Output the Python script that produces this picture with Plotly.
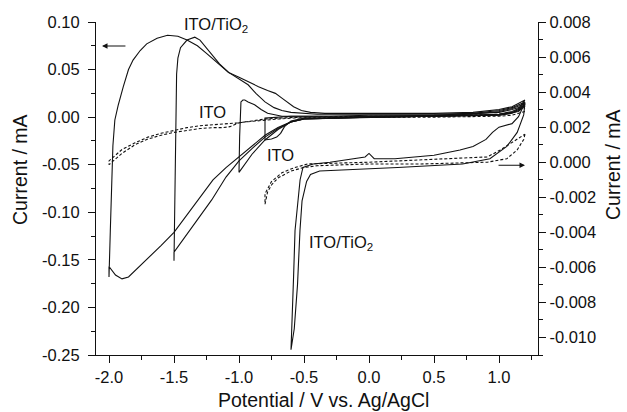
import plotly.graph_objects as go

# ---- ITO/TiO2 electrode, left axis (mA), four negative vertex potentials ----
# each sweep starts at +1.2 V, runs cathodic to the vertex, then returns anodic
tio2_v20_cath_E = [1.2, 1.15, 1.1, 1.0, 0.8, 0.5, 0.0, -0.3, -0.5, -0.6, -0.7, -0.8, -0.9, -1.0,
                   -1.1, -1.2, -1.3, -1.4, -1.5, -1.6, -1.7, -1.8, -1.85, -1.9, -1.95, -2.0]
tio2_v20_cath_I = [0.018, 0.009, 0.006, 0.003, 0.002, 0.001, 0.000, -0.001, -0.002, -0.005, -0.011,
                   -0.019, -0.030, -0.042, -0.053, -0.066, -0.084, -0.102, -0.121, -0.135, -0.148,
                   -0.162, -0.168, -0.170, -0.166, -0.157]
tio2_v20_anod_E = [-2.0, -1.99, -1.98, -1.97, -1.955, -1.93, -1.89, -1.85, -1.815, -1.76, -1.71,
                   -1.63, -1.55, -1.47, -1.40, -1.32, -1.25, -1.17, -1.08, -1.0, -0.93, -0.85,
                   -0.78, -0.72, -0.67, -0.63, -0.58, -0.52, -0.45, -0.34, 0.0, 0.5, 0.8, 1.0,
                   1.1, 1.2]
tio2_v20_anod_I = [-0.168, -0.120, -0.060, -0.030, -0.003, 0.012, 0.032, 0.050, 0.060, 0.070, 0.077,
                   0.083, 0.086, 0.085, 0.081, 0.075, 0.067, 0.058, 0.047, 0.042, 0.037, 0.032,
                   0.028, 0.025, 0.020, 0.016, 0.011, 0.007, 0.005, 0.004, 0.004, 0.004, 0.005,
                   0.008, 0.011, 0.018]

tio2_v15_cath_E = [1.2, 1.15, 1.1, 1.0, 0.5, 0.0, -0.5, -0.6, -0.7, -0.8, -0.9, -1.0, -1.1, -1.21,
                   -1.3, -1.4, -1.5, -1.5]
tio2_v15_cath_I = [0.016, 0.008, 0.005, 0.003, 0.001, 0.000, -0.002, -0.005, -0.012, -0.021, -0.033,
                   -0.046, -0.063, -0.087, -0.104, -0.123, -0.142, -0.151]
tio2_v15_anod_E = [-1.495, -1.49, -1.485, -1.48, -1.47, -1.45, -1.40, -1.34, -1.30, -1.25, -1.2,
                   -1.15, -1.08, -1.0, -0.93, -0.87, -0.8, -0.73, -0.67, -0.6, -0.52, -0.4, 0.0,
                   0.5, 0.8, 1.0, 1.1, 1.2]
tio2_v15_anod_I = [-0.090, -0.030, 0.020, 0.045, 0.062, 0.073, 0.081, 0.084, 0.081, 0.073, 0.064,
                   0.056, 0.047, 0.040, 0.034, 0.025, 0.016, 0.010, 0.007, 0.005, 0.004, 0.003,
                   0.003, 0.003, 0.004, 0.007, 0.010, 0.016]

tio2_v10_cath_E = [1.2, 1.15, 1.1, 1.0, 0.5, 0.0, -0.5, -0.6, -0.7, -0.8, -0.9, -0.95, -1.0]
tio2_v10_cath_I = [0.014, 0.007, 0.004, 0.002, 0.001, 0.000, -0.002, -0.005, -0.013, -0.024, -0.039,
                   -0.048, -0.058]
tio2_v10_anod_E = [-0.995, -0.99, -0.985, -0.97, -0.955, -0.93, -0.88, -0.83, -0.78, -0.67, -0.3,
                   0.0, 0.5, 0.8, 1.0, 1.1, 1.2]
tio2_v10_anod_I = [-0.020, 0.010, 0.016, 0.018, 0.018, 0.016, 0.013, 0.008, 0.004, 0.001, 0.001,
                   0.002, 0.002, 0.003, 0.006, 0.009, 0.014]

tio2_v08_cath_E = [1.2, 1.15, 1.0, 0.5, 0.0, -0.5, -0.6, -0.65, -0.68, -0.71, -0.75, -0.8]
tio2_v08_cath_I = [0.012, 0.006, 0.002, 0.001, 0.000, -0.001, -0.004, -0.010, -0.017, -0.021,
                   -0.023, -0.024]
tio2_v08_anod_E = [-0.8, -0.7, -0.6, 0.0, 0.5, 1.0, 1.1, 1.2]
tio2_v08_anod_I = [-0.001, 0.000, 0.001, 0.001, 0.002, 0.005, 0.008, 0.012]

# ---- bare ITO electrode, left axis (mA), dashed ----
ito_left_cath_E = [1.2, 1.1, 1.0, 0.5, 0.0, -0.5, -0.6, -0.7, -0.8, -0.9, -0.95, -1.0, -1.07,
                   -1.12, -1.2, -1.3, -1.4, -1.5, -1.6, -1.7, -1.8, -1.9, -2.0]
ito_left_cath_I = [0.006, 0.002, 0.001, 0.000, 0.000, -0.001, -0.001, -0.002, -0.003, -0.004,
                   -0.005, -0.006, -0.010, -0.011, -0.011, -0.012, -0.014, -0.016, -0.019, -0.023,
                   -0.029, -0.038, -0.050]
ito_left_anod_E = [-2.0, -1.95, -1.9, -1.8, -1.7, -1.6, -1.5, -1.4, -1.3, -1.2, -1.1, -1.0, -0.9,
                   -0.8, -0.7, -0.5, 0.0, 0.5, 1.0, 1.1, 1.2]
ito_left_anod_I = [-0.046, -0.040, -0.034, -0.027, -0.021, -0.017, -0.014, -0.011, -0.009, -0.008,
                   -0.007, -0.006, -0.004, -0.002, -0.001, 0.000, 0.001, 0.001, 0.003, 0.005, 0.010]

# ---- ITO/TiO2 electrode, right axis (mA), vertex -0.6 V ----
tio2_right_cath_E = [1.2, 1.19, 1.14, 1.06, 0.93, 0.72, 0.22, -0.3, -0.38, -0.45, -0.48, -0.515,
                     -0.531, -0.55, -0.575, -0.6]
tio2_right_cath_I = [0.0034, 0.0027, 0.0017, 0.0009, 0.0002, -0.0001, -0.0003, -0.0005, -0.0005,
                     -0.0007, -0.0011, -0.0022, -0.0039, -0.0070, -0.0095, -0.0107]
tio2_right_anod_E = [-0.6, -0.59, -0.58, -0.569, -0.546, -0.53, -0.508, -0.43, -0.3, -0.1, -0.03,
                     0.0, 0.04, 0.2, 0.5, 0.7, 0.8, 0.9, 0.95, 1.0, 1.05, 1.1, 1.15, 1.2]
tio2_right_anod_I = [-0.0107, -0.0090, -0.0065, -0.0039, -0.0022, -0.0010, -0.0003, -0.0001,
                     0.0000, 0.0002, 0.0003, 0.0005, 0.0002, 0.0002, 0.0004, 0.0007, 0.0009,
                     0.0013, 0.0017, 0.0020, 0.0021, 0.0022, 0.0026, 0.0034]

# ---- bare ITO electrode, right axis (mA), vertex -0.8 V, dashed ----
ito_right_cath_E = [1.2, 1.19, 1.14, 1.06, 0.91, 0.4, 0.0, -0.4, -0.5, -0.6, -0.7, -0.75, -0.78,
                    -0.8]
ito_right_cath_I = [0.0016, 0.0013, 0.0007, 0.0002, 0.0000, -0.0001, -0.0001, -0.0002, -0.0003,
                    -0.0005, -0.0009, -0.0013, -0.0017, -0.0024]
ito_right_anod_E = [-0.8, -0.8, -0.75, -0.67, -0.57, -0.47, 0.0, 0.6, 0.91, 1.01, 1.14, 1.2]
ito_right_anod_I = [-0.0024, -0.0018, -0.0011, -0.0006, -0.0003, -0.0001, 0.0000, 0.0002, 0.0003,
                    0.0007, 0.0013, 0.0016]

# ---- axis ticks ----
x_ticks = [-2.0, -1.5, -1.0, -0.5, 0.0, 0.5, 1.0]
x_labels = ["-2.0", "-1.5", "-1.0", "-0.5", "0.0", "0.5", "1.0"]
y_left_ticks = [0.10, 0.05, 0.00, -0.05, -0.10, -0.15, -0.20, -0.25]
y_left_labels = ["0.10", "0.05", "0.00", "-0.05", "-0.10", "-0.15", "-0.20", "-0.25"]
y_right_ticks = [0.008, 0.006, 0.004, 0.002, 0.000, -0.002, -0.004, -0.006, -0.008, -0.010]
y_right_labels = ["0.008", "0.006", "0.004", "0.002", "0.000", "-0.002", "-0.004", "-0.006",
                  "-0.008", "-0.010"]

FONT = "Liberation Sans, Arial, sans-serif"
INK = "#111111"

fig = go.Figure()


def add_cv(e_cath, i_cath, e_anod, i_anod, axis, dashed):
    fig.add_trace(go.Scatter(
        x=e_cath + e_anod, y=i_cath + i_anod, mode="lines", yaxis=axis,
        line=dict(color=INK, width=1.1, dash="3px,2px" if dashed else "solid"),
        showlegend=False, hoverinfo="skip"))


add_cv(ito_left_cath_E, ito_left_cath_I, ito_left_anod_E, ito_left_anod_I, "y", True)
add_cv(tio2_v20_cath_E, tio2_v20_cath_I, tio2_v20_anod_E, tio2_v20_anod_I, "y", False)
add_cv(tio2_v15_cath_E, tio2_v15_cath_I, tio2_v15_anod_E, tio2_v15_anod_I, "y", False)
add_cv(tio2_v10_cath_E, tio2_v10_cath_I, tio2_v10_anod_E, tio2_v10_anod_I, "y", False)
add_cv(tio2_v08_cath_E, tio2_v08_cath_I, tio2_v08_anod_E, tio2_v08_anod_I, "y", False)
add_cv(ito_right_cath_E, ito_right_cath_I, ito_right_anod_E, ito_right_anod_I, "y2", True)
add_cv(tio2_right_cath_E, tio2_right_cath_I, tio2_right_anod_E, tio2_right_anod_I, "y2", False)

tick_font = dict(family=FONT, size=16.5, color=INK)
axis_common = dict(showline=True, linecolor=INK, linewidth=1.2, ticks="outside", ticklen=7,
                   tickwidth=1.2, tickcolor=INK, showgrid=False, zeroline=False,
                   tickfont=tick_font, mirror=False)

fig.update_layout(
    width=627, height=412,
    margin=dict(l=96, r=89, t=22, b=57),
    paper_bgcolor="white", plot_bgcolor="white",
    font=dict(family=FONT, color=INK),
    xaxis=dict(range=[-2.1, 1.3], tickvals=x_ticks, ticktext=x_labels,
               minor=dict(ticks="outside", ticklen=4, tickwidth=1.2, tickcolor=INK,
                          tick0=0, dtick=0.25),
               **axis_common),
    yaxis=dict(range=[-0.25, 0.10], tickvals=y_left_ticks, ticktext=y_left_labels,
               ticklabelstandoff=5,
               minor=dict(ticks="outside", ticklen=4, tickwidth=1.2, tickcolor=INK,
                          tick0=0, dtick=0.025),
               **axis_common),
    yaxis2=dict(range=[-0.011, 0.008], overlaying="y", side="right", anchor="x",
                tickvals=y_right_ticks, ticktext=y_right_labels,
                minor=dict(ticks="outside", ticklen=4, tickwidth=1.2, tickcolor=INK,
                           tick0=0, dtick=0.001),
                **axis_common),
)

label_font = dict(family=FONT, size=16.5, color=INK)
title_font = dict(family=FONT, size=19.5, color=INK)

annotations = [
    # curve labels
    dict(x=-1.438, y=0.0968, xref="x", yref="y", text="ITO/TiO<sub>2</sub>", showarrow=False,
         xanchor="left", yanchor="middle", font=label_font),
    dict(x=-1.323, y=0.0053, xref="x", yref="y", text="ITO", showarrow=False,
         xanchor="left", yanchor="middle", font=label_font),
    dict(x=-0.80, y=-0.040, xref="x", yref="y", text="ITO", showarrow=False,
         xanchor="left", yanchor="middle", font=label_font),
    dict(x=-0.477, y=-0.1326, xref="x", yref="y", text="ITO/TiO<sub>2</sub>", showarrow=False,
         xanchor="left", yanchor="middle", font=label_font),
    # arrows pointing to the axis each family belongs to
    dict(x=-2.054, y=0.0747, ax=-1.862, ay=0.0747, xref="x", yref="y", axref="x", ayref="y",
         text="", showarrow=True, arrowhead=2, arrowsize=1, arrowwidth=1.1, arrowcolor=INK),
    dict(x=1.2, y=-0.00017, ax=0.985, ay=-0.00017, xref="x", yref="y2", axref="x", ayref="y2",
         text="", showarrow=True, arrowhead=2, arrowsize=1, arrowwidth=1.1, arrowcolor=INK),
    # axis titles
    dict(x=-0.172, y=0.5586, xref="paper", yref="paper", text="Current / mA", textangle=-90,
         showarrow=False, xanchor="center", yanchor="middle", font=title_font),
    dict(x=1.1697, y=0.5706, xref="paper", yref="paper", text="Current / mA", textangle=-90,
         showarrow=False, xanchor="center", yanchor="middle", font=title_font),
    dict(x=0.5147, y=-0.135, xref="paper", yref="paper", text="Potential / V vs. Ag/AgCl",
         showarrow=False, xanchor="center", yanchor="middle", font=title_font),
]
fig.update_layout(annotations=annotations)

fig.write_html("out.html")
